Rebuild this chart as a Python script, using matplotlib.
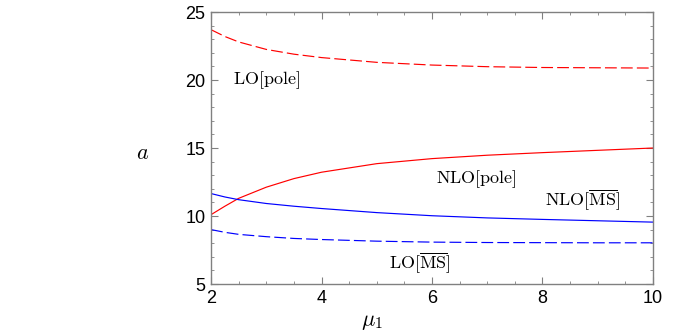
import matplotlib
matplotlib.use("Agg")
import matplotlib.pyplot as plt
from matplotlib.ticker import MultipleLocator

plt.rcParams['mathtext.fontset'] = 'cm'

mu = [2, 2.25, 2.5, 3, 3.5, 4, 5, 6, 7, 8, 9, 10]
lo_pole = [23.7, 23.2, 22.8, 22.25, 21.9, 21.65, 21.3, 21.1, 20.98, 20.92, 20.9, 20.88]
nlo_pole = [10.1, 10.72, 11.3, 12.12, 12.75, 13.22, 13.85, 14.22, 14.47, 14.66, 14.83, 15.0]
nlo_ms = [11.65, 11.4, 11.2, 10.92, 10.72, 10.55, 10.25, 10.02, 9.86, 9.75, 9.65, 9.55]
lo_ms = [9.0, 8.8, 8.65, 8.48, 8.35, 8.27, 8.15, 8.08, 8.05, 8.04, 8.03, 8.03]

fig = plt.figure(figsize=(6.92, 3.34), dpi=100)
ax = fig.add_axes([0.305, 0.1497, 0.6386, 0.8143])

ax.plot(mu, lo_pole, color='#ff0000', lw=0.85, dashes=(10, 3.5))
ax.plot(mu, nlo_pole, color='#ff0000', lw=0.85)
ax.plot(mu, nlo_ms, color='#0000ff', lw=0.85)
ax.plot(mu, lo_ms, color='#0000ff', lw=0.85, dashes=(10, 3.5))

ax.set_xlim(2, 10)
ax.set_ylim(5, 25)
ax.xaxis.set_major_locator(MultipleLocator(2))
ax.xaxis.set_minor_locator(MultipleLocator(0.5))
ax.yaxis.set_major_locator(MultipleLocator(5))
ax.yaxis.set_minor_locator(MultipleLocator(1))
ax.tick_params(which='both', direction='in', top=True, right=True, color='#808080',
               labelright=False, labeltop=False)
ax.tick_params(which='major', length=5, width=0.8, labelsize=13, pad=4)
ax.tick_params(which='minor', length=2.5, width=0.6)
for lab in ax.get_xticklabels() + ax.get_yticklabels():
    lab.set_fontfamily('Liberation Sans')
for s in ax.spines.values():
    s.set_color('#808080')
    s.set_linewidth(1.0)

ax.text(2.4, 20, r'$\mathrm{LO[pole]}$', fontsize=13, va='center', ha='left')
ax.text(6.81, 12.7, r'$\mathrm{NLO[pole]}$', fontsize=13, va='center', ha='center')
ax.text(8.73, 11.18, r'$\mathrm{NLO[\overline{MS}]}$', fontsize=13, va='center', ha='center')
ax.text(5.78, 6.52, r'$\mathrm{LO[\overline{MS}]}$', fontsize=13, va='center', ha='center')

fig.text(143 / 692, 1 - 153 / 334, r'$a$', fontsize=16, ha='center', va='center')
fig.text(372 / 692, 1 - 322 / 334, r'$\mu_1$', fontsize=16, ha='center', va='center')

fig.savefig('out.png', dpi=100)
